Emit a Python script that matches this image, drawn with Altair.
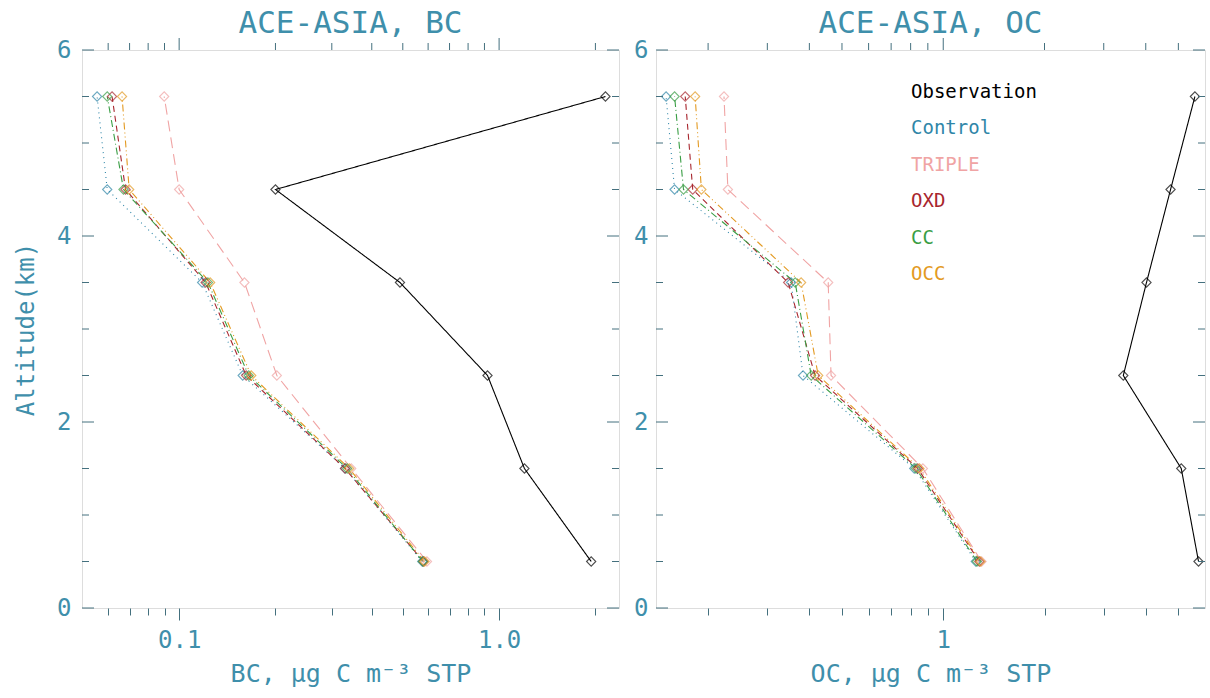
import altair as alt
import pandas as pd

# ---------------- data ----------------
altitude = [0.5, 1.5, 2.5, 3.5, 4.5, 5.5]
series_names = ["Observation", "Control", "TRIPLE", "OXD", "CC", "OCC"]
series_colors = ["#000000", "#2f86a8", "#f0a4a4", "#a8262e", "#3a9e45", "#e39a22"]
series_dashes = [[1, 0], [1, 4], [11, 6], [6, 4], [7, 3, 1, 3], [7, 3, 1, 3, 1, 3]]

bc_observation = [1.94, 1.20, 0.92, 0.49, 0.20, 2.15]
bc_control = [0.575, 0.330, 0.158, 0.118, 0.0596, 0.0554]
bc_triple = [0.595, 0.345, 0.202, 0.160, 0.100, 0.0898]
bc_oxd = [0.580, 0.330, 0.162, 0.121, 0.068, 0.0617]
bc_cc = [0.578, 0.335, 0.165, 0.123, 0.067, 0.0596]
bc_occ = [0.585, 0.340, 0.168, 0.125, 0.0698, 0.0663]

oc_observation = [5.74, 5.10, 3.43, 4.02, 4.74, 5.60]
oc_control = [1.25, 0.82, 0.383, 0.353, 0.159, 0.150]
oc_triple = [1.30, 0.87, 0.464, 0.455, 0.229, 0.223]
oc_oxd = [1.28, 0.84, 0.416, 0.346, 0.180, 0.171]
oc_cc = [1.26, 0.83, 0.405, 0.363, 0.169, 0.159]
oc_occ = [1.29, 0.85, 0.425, 0.378, 0.191, 0.183]

bc_x_domain = [0.0497, 2.37]
oc_x_domain = [0.14, 6.0]
bc_x_major = [0.1, 1.0]
bc_x_minor = [0.06, 0.07, 0.08, 0.09, 0.2, 0.3, 0.4, 0.5, 0.6, 0.7, 0.8, 0.9, 2.0]
oc_x_major = [1.0]
oc_x_minor = [0.2, 0.3, 0.4, 0.5, 0.6, 0.7, 0.8, 0.9, 2.0, 3.0, 4.0, 5.0]
y_major = [0, 2, 4, 6]
y_minor = [0.5, 1, 1.5, 2.5, 3, 3.5, 4.5, 5, 5.5]

TEAL = "#3f8fab"
FRAME = "#3385a0"
TICK = "#44707e"
FONT = "DejaVu Sans Mono"
W_LEFT, W_RIGHT, H = 537, 549, 558
MAJ, MIN = 12, 7


def long_table(cols):
    rows = []
    for name, vals in zip(series_names, cols):
        for a, v in zip(altitude, vals):
            rows.append({"series": name, "alt": a, "value": v})
    return pd.DataFrame(rows)


def panel(df, x_domain, x_major, x_minor, label_expr, title, x_title, y_title, width, legend):
    color = alt.Color("series:N", scale=alt.Scale(domain=series_names, range=series_colors), legend=None)
    dash = alt.StrokeDash("series:N", scale=alt.Scale(domain=series_names, range=series_dashes), legend=None)
    xscale = alt.Scale(type="log", domain=x_domain, nice=False)
    yscale = alt.Scale(domain=[0, 6], nice=False, zero=False)
    x_ticks = sorted(x_major + x_minor)
    tsize = {"condition": {"test": "indexof(%s, datum.value) >= 0" % str(x_major), "value": MAJ},
             "value": MIN}

    x_axis = alt.Axis(values=x_ticks, labelExpr=label_expr, grid=False, domain=False,
                      tickSize=tsize, tickColor=TICK, tickWidth=1,
                      labelColor=TEAL, labelFont=FONT, labelFontSize=24, labelPadding=8,
                      labelFlush=False, labelOverlap=False,
                      title=x_title, titleColor=TEAL, titleFont=FONT, titleFontSize=25,
                      titleFontWeight="normal", titlePadding=9)
    if y_title:
        y_axis = alt.Axis(values=y_major, grid=False, domain=False, ticks=False, labelColor=TEAL,
                          labelFont=FONT, labelFontSize=24, labelPadding=11,
                          title=y_title, titleColor=TEAL, titleFont=FONT, titleFontSize=24,
                          titleFontWeight="normal", titlePadding=18)
    else:
        y_axis = alt.Axis(values=y_major, grid=False, domain=False, ticks=False, labelColor=TEAL,
                          labelFont=FONT, labelFontSize=24, labelPadding=8, title=None)

    base = alt.Chart(df)
    lines = base.mark_line(strokeWidth=1.1).encode(
        x=alt.X("value:Q", scale=xscale, axis=x_axis),
        y=alt.Y("alt:Q", scale=yscale, axis=y_axis),
        color=color, strokeDash=dash, order=alt.Order("alt:Q"))
    points = base.mark_point(shape="diamond", filled=False, size=85, strokeWidth=1.1).encode(
        x=alt.X("value:Q", scale=xscale, axis=x_axis),
        y=alt.Y("alt:Q", scale=yscale, axis=y_axis),
        color=color)

    layers = [lines, points]
    # top axis ticks (outward) drawn through the x scale
    for vals, ln in ((x_major, MAJ), (x_minor, MIN)):
        layers.append(alt.Chart(pd.DataFrame({"value": vals})).mark_rule(color=TICK, strokeWidth=1).encode(
            x=alt.X("value:Q", scale=xscale, axis=x_axis), y=alt.value(0), y2=alt.value(-ln)))
    # left / right inward y ticks drawn through the y scale
    for vals, ln in ((y_major, MAJ), (y_minor, MIN)):
        ch = alt.Chart(pd.DataFrame({"alt": vals}))
        layers.append(ch.mark_rule(color=TICK, strokeWidth=1).encode(
            x=alt.value(0), x2=alt.value(ln), y=alt.Y("alt:Q", scale=yscale, axis=y_axis)))
        layers.append(ch.mark_rule(color=TICK, strokeWidth=1).encode(
            x=alt.value(width - ln), x2=alt.value(width), y=alt.Y("alt:Q", scale=yscale, axis=y_axis)))

    inner = alt.layer(*layers)
    if legend:
        leg = alt.Chart(pd.DataFrame({"series": series_names})).mark_text(
            align="left", baseline="middle", font=FONT, fontSize=19).encode(
            x=alt.value(255),
            y=alt.Y("series:N", scale=alt.Scale(type="point", domain=series_names, range=[42, 224],
                                                padding=0),
                    axis=None),
            color=alt.Color("series:N", scale=alt.Scale(domain=series_names, range=series_colors),
                            legend=None),
            text="series:N")
        chart = alt.layer(inner, leg).resolve_scale(y="independent")
    else:
        chart = inner
    return chart.properties(
        width=width, height=H,
        title=alt.TitleParams(title, font=FONT, fontSize=31, fontWeight="normal", color=TEAL,
                              anchor="middle", frame="group", offset=-2))


bc_df = long_table([bc_observation, bc_control, bc_triple, bc_oxd, bc_cc, bc_occ])
oc_df = long_table([oc_observation, oc_control, oc_triple, oc_oxd, oc_cc, oc_occ])

left = panel(bc_df, bc_x_domain, bc_x_major, bc_x_minor,
             "indexof([0.1], datum.value) >= 0 ? '0.1' : indexof([1], datum.value) >= 0 ? '1.0' : ''",
             "ACE-ASIA, BC", "BC, \u03bcg C m\u207b\u00b3 STP", "Altitude(km)", W_LEFT, False)
right = panel(oc_df, oc_x_domain, oc_x_major, oc_x_minor,
              "indexof([1], datum.value) >= 0 ? '1' : ''",
              "ACE-ASIA, OC", "OC, \u03bcg C m\u207b\u00b3 STP", None, W_RIGHT, True)

chart = alt.hconcat(left, right, spacing=13).properties(
    padding={"left": 14, "top": 7, "right": 0, "bottom": 0}
).configure_view(stroke=FRAME, strokeWidth=1.6).configure(background="white")

chart.save("out.html", embed_options={"renderer": "svg", "actions": False})
